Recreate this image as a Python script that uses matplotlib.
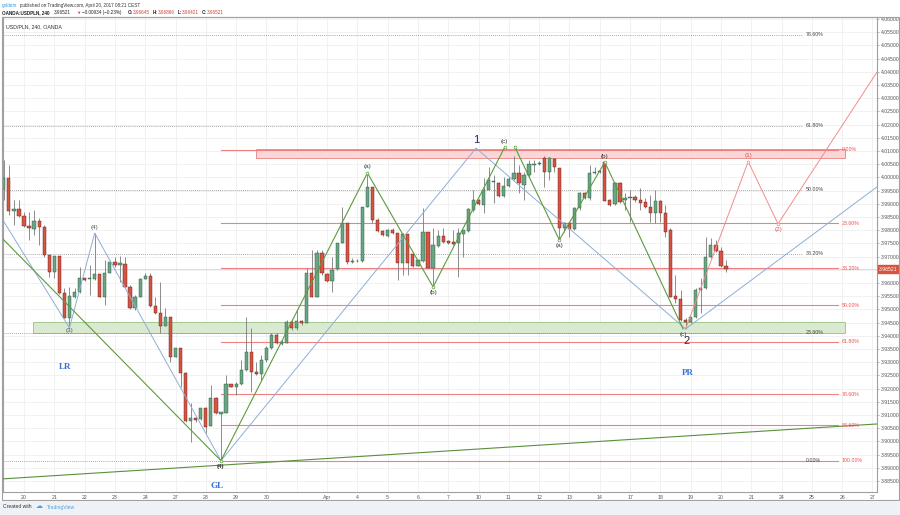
import matplotlib
matplotlib.use('Agg')
import matplotlib.pyplot as plt
from matplotlib.patches import Rectangle
import numpy as np

plt.rcParams['font.family'] = ['Liberation Sans', 'DejaVu Sans']

## candle data, USD/PLN 240 (x = candle index, 6 candles per day)
opens = [3.9956, 3.9998, 3.9873, 3.9880, 3.9854, 3.9816, 3.9805, 3.9835, 3.9813, 3.9706,
         3.9642, 3.9702, 3.9562, 3.9467, 3.9547, 3.9566, 3.9619, 3.9615, 3.9615, 3.9634,
         3.9547, 3.9638, 3.9679, 3.9668, 3.9672, 3.9585, 3.9505, 3.9547, 3.9615, 3.9627,
         3.9513, 3.9486, 3.9437, 3.9471, 3.9320, 3.9354, 3.9259, 3.9077, 3.9089, 3.9085,
         3.9127, 3.9058, 3.9164, 3.9104, 3.9108, 3.9217, 3.9206, 3.9217, 3.9270, 3.9339,
         3.9263, 3.9255, 3.9308, 3.9354, 3.9403, 3.9369, 3.9373, 3.9452, 3.9430, 3.9456,
         3.9448, 3.9638, 3.9547, 3.9714, 3.9634, 3.9608, 3.9653, 3.9751, 3.9827, 3.9679,
         3.9683, 3.9683, 3.9888, 3.9964, 3.9839, 3.9797, 3.9778, 3.9801, 3.9789, 3.9676,
         3.9786, 3.9710, 3.9664, 3.9683, 3.9793, 3.9657, 3.9740, 3.9778, 3.9759, 3.9755,
         3.9751, 3.9786, 3.9797, 3.9877, 3.9914, 3.9895, 3.9952, 3.9983, 3.9979, 3.9930,
         3.9967, 3.9994, 4.0017, 3.9971, 4.0009, 4.0047, 4.0051, 4.0074, 4.0020, 4.0070,
         4.0036, 3.9808, 3.9827, 3.9805, 3.9884, 3.9941, 3.9922, 4.0017, 4.0020, 4.0058,
         3.9914, 3.9899, 3.9979, 3.9914, 3.9922, 3.9926, 3.9914, 3.9907, 3.9888, 3.9865,
         3.9911, 3.9865, 3.9801, 3.9551, 3.9539, 3.9460, 3.9452, 3.9471, 3.9574, 3.9581,
         3.9698, 3.9744, 3.9721, 3.96645]
highs = [4.0066, 4.0047, 3.9914, 3.9914, 3.9869, 3.9869, 3.9877, 3.9846, 3.9820, 3.9706,
         3.9702, 3.9702, 3.9581, 3.9585, 3.9581, 3.9661, 3.9619, 3.9668, 3.9789, 3.9634,
         3.9687, 3.9687, 3.9698, 3.9702, 3.9698, 3.9592, 3.9555, 3.9619, 3.9638, 3.9638,
         3.9547, 3.9604, 3.9505, 3.9471, 3.9354, 3.9354, 3.9263, 3.9145, 3.9093, 3.9127,
         3.9130, 3.9214, 3.9168, 3.9111, 3.9252, 3.9217, 3.9225, 3.9308, 3.9471, 3.9430,
         3.9301, 3.9327, 3.9362, 3.9411, 3.9411, 3.9384, 3.9460, 3.9464, 3.9502, 3.9460,
         3.9657, 3.9725, 3.9725, 3.9725, 3.9638, 3.9698, 3.9751, 3.9888, 3.9827, 3.9694,
         3.9690, 3.9888, 4.0017, 3.9964, 3.9846, 3.9801, 3.9805, 3.9808, 3.9789, 3.9789,
         3.9786, 3.9714, 3.9687, 3.9884, 3.9793, 3.9808, 3.9801, 3.9808, 3.9763, 3.9801,
         3.9808, 3.9801, 3.9884, 3.9952, 3.9918, 3.9998, 4.0039, 4.0009, 3.9983, 4.0001,
         4.0001, 4.0081, 4.0047, 4.0020, 4.0066, 4.0066, 4.0062, 4.0081, 4.0077, 4.0074,
         4.0036, 3.9831, 3.9831, 3.9888, 3.9945, 3.9945, 4.0047, 4.0039, 4.0028, 4.0062,
         3.9918, 3.9983, 3.9983, 3.9941, 3.9952, 3.9933, 3.9960, 3.9922, 3.9933, 3.9952,
         3.9914, 3.9895, 3.9808, 3.9630, 3.9574, 3.9467, 3.9471, 3.9581, 3.9619, 3.9774,
         3.9770, 3.9763, 3.9736, 3.96866]
lows = [3.9914, 3.9858, 3.9820, 3.9850, 3.9813, 3.9763, 3.9782, 3.9744, 3.9698, 3.9623,
        3.9619, 3.9559, 3.9467, 3.9430, 3.9543, 3.9562, 3.9608, 3.9555, 3.9611, 3.9547,
        3.9517, 3.9638, 3.9661, 3.9604, 3.9585, 3.9502, 3.9498, 3.9547, 3.9615, 3.9509,
        3.9483, 3.9411, 3.9437, 3.9301, 3.9320, 3.9206, 3.9074, 3.8998, 3.9074, 3.9081,
        3.9032, 3.9058, 3.9104, 3.8927, 3.9108, 3.9206, 3.9176, 3.9214, 3.9267, 3.9187,
        3.9252, 3.9233, 3.9301, 3.9350, 3.9369, 3.9365, 3.9373, 3.9422, 3.9422, 3.9441,
        3.9448, 3.9547, 3.9547, 3.9630, 3.9604, 3.9566, 3.9649, 3.9751, 3.9672, 3.9676,
        3.9679, 3.9679, 3.9888, 3.9827, 3.9793, 3.9778, 3.9774, 3.9786, 3.9611, 3.9630,
        3.9630, 3.9661, 3.9664, 3.9679, 3.9657, 3.9585, 3.9736, 3.9751, 3.9748, 3.9744,
        3.9623, 3.9698, 3.9793, 3.9869, 3.9895, 3.9865, 3.9952, 3.9903, 3.9926, 3.9926,
        3.9964, 3.9990, 3.9941, 3.9914, 4.0001, 4.0020, 4.0047, 3.9964, 3.9990, 4.0020,
        3.9763, 3.9793, 3.9774, 3.9801, 3.9877, 3.9918, 3.9914, 4.0013, 4.0017, 3.9911,
        3.9892, 3.9895, 3.9903, 3.9877, 3.9831, 3.9907, 3.9877, 3.9884, 3.9831, 3.9827,
        3.9831, 3.9774, 3.9547, 3.9524, 3.9456, 3.9426, 3.9448, 3.9467, 3.9486, 3.9577,
        3.9694, 3.9717, 3.9661, 3.96421]
closes = [3.9998, 3.9873, 3.9880, 3.9854, 3.9816, 3.9808, 3.9835, 3.9813, 3.9706, 3.9642,
          3.9702, 3.9562, 3.9467, 3.9551, 3.9566, 3.9619, 3.9611, 3.9619, 3.9634, 3.9547,
          3.9638, 3.9679, 3.9668, 3.9676, 3.9585, 3.9505, 3.9547, 3.9615, 3.9627, 3.9513,
          3.9486, 3.9437, 3.9471, 3.9320, 3.9354, 3.9259, 3.9077, 3.9089, 3.9081, 3.9127,
          3.9055, 3.9164, 3.9108, 3.9111, 3.9217, 3.9206, 3.9217, 3.9270, 3.9339, 3.9263,
          3.9255, 3.9308, 3.9354, 3.9403, 3.9373, 3.9376, 3.9452, 3.9430, 3.9456, 3.9448,
          3.9638, 3.9547, 3.9714, 3.9638, 3.9608, 3.9649, 3.9751, 3.9827, 3.9679, 3.9683,
          3.9685, 3.9888, 3.9964, 3.9839, 3.9797, 3.9782, 3.9801, 3.9789, 3.9676, 3.9786,
          3.9676, 3.9664, 3.9687, 3.9793, 3.9657, 3.9744, 3.9778, 3.9755, 3.9751, 3.9748,
          3.9789, 3.9801, 3.9880, 3.9914, 3.9899, 3.9952, 3.9990, 3.9986, 3.9930, 3.9967,
          3.9994, 4.0017, 3.9979, 4.0009, 4.0051, 4.0051, 4.0055, 4.0020, 4.0074, 4.0039,
          3.9808, 3.9827, 3.9805, 3.9884, 3.9941, 3.9922, 4.0017, 4.0020, 4.0024, 3.9911,
          3.9895, 3.9979, 3.9907, 3.9922, 3.9926, 3.9914, 3.9903, 3.9888, 3.9865, 3.9911,
          3.9865, 3.9793, 3.9547, 3.9539, 3.9460, 3.9452, 3.9471, 3.9574, 3.9581, 3.9698,
          3.9744, 3.9721, 3.9664, 3.96521]

day_labels = ['20', '21', '22', '23', '24', '27', '28', '29', '30', '', 'Apr', '4', '5', '6', '7',
              '10', '11', '12', '13', '14', '17', '18', '19', '20', '21', '24', '25', '26', '27']
first_day_candle = 4
candles_per_day = 6

## fib levels
red_fib_top, red_fib_bottom = 4.0105, 3.8927
red_fib_levels = [0.0, 0.236, 0.382, 0.5, 0.618, 0.786, 0.886, 1.0]
gray_fib_low, gray_fib_high = 3.8927, 4.0980
gray_fib_levels = [0.0, 0.236, 0.382, 0.5, 0.618, 0.786]

## zones
red_zone = (4.0074, 4.0108)
green_zone = (3.9411, 3.9452)

## wave drawings (candle index, price)
blue_x = [-0.2, 13, 18, 43, 93.5, 135, 172.9]
blue_y = [3.9839, 3.9430, 3.9789, 3.8927, 4.0111, 3.9426, 3.9964]
green1_x = [-0.2, 43, 72, 85, 99.2]
green1_y = [3.9767, 3.8927, 4.0017, 3.9585, 4.0115]
green2_x = [101.2, 110, 119, 134.5]
green2_y = [4.0115, 3.9763, 4.0058, 3.9426]
red_x = [135, 147.4, 153.3, 172.9]
red_y = [3.9426, 4.0060, 3.9824, 4.0399]
trend_x = [-0.2, 172.9]
trend_y = [3.8858, 3.9066]

last_price = 3.96521

up_col, dn_col = '#6ba583', '#d75442'
up_edge, dn_edge = '#225437', '#5b1a13'

fig = plt.figure(figsize=(9, 5.15), dpi=100)
W, H = 900.0, 515.0
ax = fig.add_axes([3 / W, 1 - 492 / H, 874 / W, 475 / H])
ax.set_xlim(-0.16, 172.9)
ax.set_ylim(3.88083, 4.06076)

## grid
day_pos = [first_day_candle + candles_per_day * i for i in range(len(day_labels))]
yticks = np.round(np.arange(3.885, 4.0601, 0.005), 3)
for xp in day_pos:
    ax.axvline(xp, color='#efefef', lw=0.6, zorder=0)
for yp in yticks:
    ax.axhline(yp, color='#efefef', lw=0.6, zorder=0)

## zones
ax.add_patch(Rectangle((50, red_zone[0]), 116.6, red_zone[1] - red_zone[0],
                       fc='#f9d7d7', ec='#e88080', lw=0.6, zorder=1))
ax.add_patch(Rectangle((5.8, green_zone[0]), 160.8, green_zone[1] - green_zone[0],
                       fc='#d9ead0', ec='#93c280', lw=0.6, zorder=1))

## gray dotted fib
for lv in gray_fib_levels:
    pr = gray_fib_low + lv * (gray_fib_high - gray_fib_low)
    ax.plot([-0.2, 158.3], [pr, pr], color='#8a8a8a', lw=0.6, ls=(0, (1, 1.5)), zorder=1)
    ax.text(158.8, pr, '%.2f%%' % (lv * 100), fontsize=3.8, color='#444444',
            va='center', ha='left', zorder=5)

## red fib
for lv in red_fib_levels:
    pr = red_fib_top - lv * (red_fib_top - red_fib_bottom)
    ax.plot([43, 165.2], [pr, pr], color='#f08080', lw=0.8, zorder=1)
    ax.text(165.9, pr, '%.2f%%' % (lv * 100), fontsize=3.8, color='#f05050',
            va='center', ha='left', zorder=5)

## last price line
ax.axhline(last_price, color='#e89a90', lw=0.5, alpha=0.6, zorder=1)

## candles
idx = np.arange(len(opens))
o = np.array(opens); c = np.array(closes)
up = c >= o
ax.vlines(idx, lows, highs, color='#7a7a7a', lw=0.6, zorder=2)
body = np.maximum(np.abs(c - o), 0.00012)
bottom = np.minimum(o, c)
ax.bar(idx[up], body[up], bottom=bottom[up], width=0.64, color=up_col,
       edgecolor=up_edge, linewidth=0.3, zorder=3)
ax.bar(idx[~up], body[~up], bottom=bottom[~up], width=0.64, color=dn_col,
       edgecolor=dn_edge, linewidth=0.3, zorder=3)

## wave lines
ax.plot(trend_x, trend_y, color='#5a8f3c', lw=0.8, zorder=4)
ax.plot(blue_x, blue_y, color='#8eaed6', lw=0.7, zorder=4)
ax.plot(green1_x, green1_y, color='#5d9b3d', lw=0.8, zorder=4)
ax.plot(green2_x, green2_y, color='#5d9b3d', lw=0.8, zorder=4)
ax.plot(red_x, red_y, color='#f28c8c', lw=0.7, zorder=4)
ax.plot(green1_x[1:], green1_y[1:], ls='none', marker='o', ms=2, mfc='white',
        mec='#5d9b3d', mew=0.5, zorder=5)
ax.plot(green2_x[:-1], green2_y[:-1], ls='none', marker='o', ms=2, mfc='white',
        mec='#5d9b3d', mew=0.5, zorder=5)
ax.plot(red_x[1:3], red_y[1:3], ls='none', marker='o', ms=2, mfc='white',
        mec='#f28c8c', mew=0.5, zorder=5)

## wave labels
lab = dict(fontsize=4.5, ha='center', zorder=6)
ax.text(13, 3.9430, '(3)', va='top', color='#555555', **lab)
ax.text(18, 3.9800, '(4)', va='bottom', color='#555555', **lab)
ax.text(43, 3.8915, '(4)', va='top', color='#333333', fontweight='bold', **lab)
ax.text(72, 4.0030, '(a)', va='bottom', color='#333333', **lab)
ax.text(85, 3.9572, '(b)', va='top', color='#333333', **lab)
ax.text(99.2, 4.0128, '(c)', va='bottom', color='#333333', **lab)
ax.text(110, 3.9750, '(a)', va='top', color='#333333', **lab)
ax.text(119, 4.0071, '(b)', va='bottom', color='#333333', **lab)
ax.text(134.5, 3.9413, '(c)', va='top', color='#333333', **lab)
ax.text(147.4, 4.0073, '(1)', va='bottom', color='#e05050', **lab)
ax.text(153.3, 3.9811, '(2)', va='top', color='#e05050', **lab)
ax.text(93.5, 4.0124, '1', va='bottom', ha='center', fontsize=8, color='#1f2d4d', zorder=6)
ax.text(135.1, 3.9400, '2', va='top', ha='center', fontsize=8, color='#1f2d4d', zorder=6)
big = dict(fontsize=6.5, fontweight='bold', family='Liberation Serif', color='#3572d4',
           ha='center', va='center', zorder=6)
ax.text(12.2, 3.9282, 'LR', **big)
ax.text(42.2, 3.8832, 'GL', **big)
ax.text(135.5, 3.9260, 'PR', **big)

## axes style
ax.set_xticks(day_pos)
ax.set_xticklabels(day_labels)
ax.set_yticks(yticks)
ax.set_yticklabels(['%.5f' % v for v in yticks])
ax.yaxis.tick_right()
ax.tick_params(axis='x', length=0, pad=2, labelsize=3.8, labelcolor='#555555')
ax.tick_params(axis='y', length=1.5, pad=1.2, labelsize=3.7, labelcolor='#555555',
               color='#999999', width=0.5)
for s in ax.spines.values():
    s.set_color('#a0a0a0')
    s.set_linewidth(0.8)

ax.annotate('%.5f' % last_price, xy=(1.0, last_price), xycoords=('axes fraction', 'data'),
            xytext=(1.5, 0), textcoords='offset points', fontsize=3.7, color='white',
            va='center', ha='left',
            bbox=dict(boxstyle='square,pad=0.25', fc=dn_col, ec=dn_col), annotation_clip=False)

ax.text(0.004, 0.985, 'USD/PLN, 240, OANDA', transform=ax.transAxes, fontsize=3.8,
        color='#333333', va='top', ha='left')

## outer frame and footer
fig.add_artist(Rectangle((2 / W, 1 - 500 / H), 897 / W, 483 / H, transform=fig.transFigure,
                         fill=False, ec='#a0a0a0', lw=0.8))
fig.add_artist(Rectangle((0, 0), 1, 14.5 / H, transform=fig.transFigure,
                         fc='#eef2f6', ec='none'))
fig.text(3 / W, 1 - 507 / H, 'Created with', fontsize=3.6, color='#333333', va='center')
fig.text(36 / W, 1 - 507 / H, '\u2601', fontsize=5, color='#4aa3df', va='center')
fig.text(47 / W, 1 - 507 / H, 'TradingView', fontsize=3.6, color='#4aa3df', va='center')

## header
hy1, hy2 = 1 - 5 / H, 1 - 12.5 / H
fs = 3.35
fig.text(2 / W, hy1, 'goldem', fontsize=fs, color='#2e9be0', va='center')
fig.text(20 / W, hy1, 'published on TradingView.com, April 20, 2017 08:21 CEST',
         fontsize=fs, color='#333333', va='center')
fig.text(2 / W, hy2, 'OANDA:USDPLN, 240', fontsize=fs, fontweight='bold', color='#222222', va='center')
fig.text(54 / W, hy2, '3.96521', fontsize=fs, color='#222222', va='center')
fig.text(76 / W, hy2, '\u25bc', fontsize=3.2, color='#d23b2e', va='center')
fig.text(82 / W, hy2, '\u22120.00934 (\u22120.23%)', fontsize=fs, color='#222222', va='center')
fig.text(128 / W, hy2, 'O:', fontsize=fs, fontweight='bold', color='#222222', va='center')
fig.text(133 / W, hy2, '3.96645', fontsize=fs, color='#d23b2e', va='center')
fig.text(153 / W, hy2, 'H:', fontsize=fs, fontweight='bold', color='#222222', va='center')
fig.text(158 / W, hy2, '3.96866', fontsize=fs, color='#d23b2e', va='center')
fig.text(178 / W, hy2, 'L:', fontsize=fs, fontweight='bold', color='#222222', va='center')
fig.text(182 / W, hy2, '3.96421', fontsize=fs, color='#d23b2e', va='center')
fig.text(202 / W, hy2, 'C:', fontsize=fs, fontweight='bold', color='#222222', va='center')
fig.text(207 / W, hy2, '3.96521', fontsize=fs, color='#d23b2e', va='center')

plt.savefig('out.png', dpi=100)
